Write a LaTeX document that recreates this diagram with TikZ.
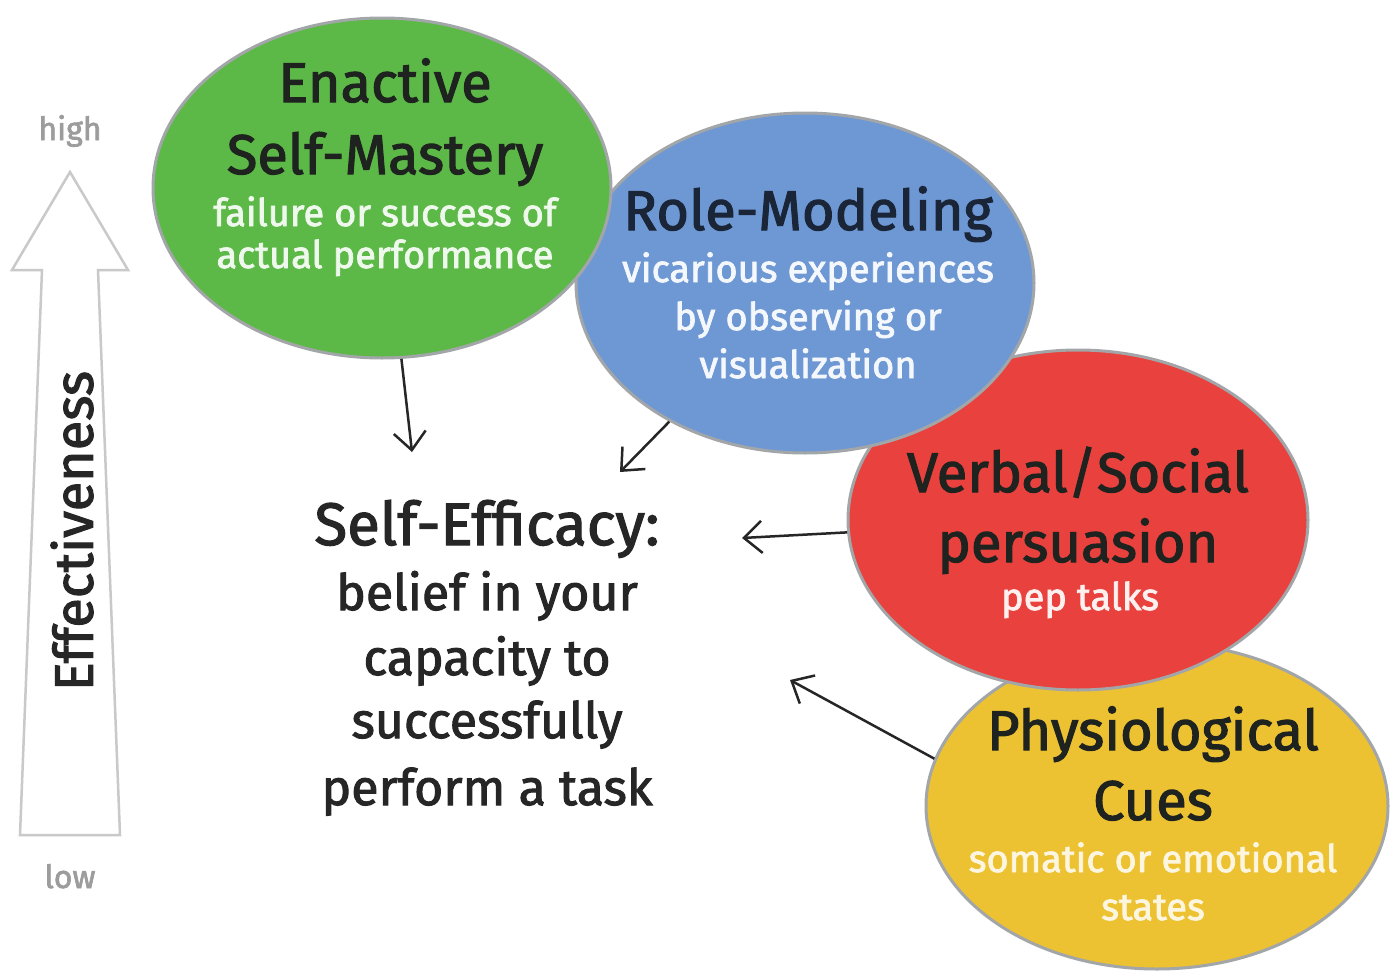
\documentclass[tikz,border=0pt]{standalone}
\usepackage{fontspec}
\setmainfont{Fira Sans}
\newfontfamily\heavy{Fira Sans}[FakeBold=2]
\usetikzlibrary{arrows.meta,shapes.geometric}
\definecolor{cgreen}{HTML}{5DB947}
\definecolor{cblue}{HTML}{6E98D4}
\definecolor{cred}{HTML}{E9413D}
\definecolor{cyellow}{HTML}{EDC232}
\definecolor{cborder}{HTML}{A3A6A8}
\definecolor{ctitle}{HTML}{1F2320}
\definecolor{cnavy}{HTML}{1B2538}
\definecolor{cgray}{HTML}{9C9C9C}
\definecolor{carrowout}{HTML}{C9C9C9}
\definecolor{ctext}{HTML}{262626}
\tikzset{
  bubble/.style={ellipse, draw=cborder, line width=3pt, inner sep=0pt},
  ttl/.style={anchor=base, text=ctitle, font=\heavy\fontsize{56}{56}\selectfont},
  sub/.style={anchor=base, font=\heavy\fontsize{38}{38}\selectfont},
  eff/.style={anchor=base, text=ctext, font=\heavy\fontsize{50}{50}\selectfont},
  lvl/.style={anchor=base, text=cgray, font=\heavy\fontsize{32}{32}\selectfont},
  arr/.style={draw=ctext, line width=2.5pt, -{Straight Barb[length=18pt,width=32pt]}},
}
\begin{document}
\begin{tikzpicture}[x=1pt,y=-1pt]
\useasboundingbox (0,0) rectangle (1398,972);
\fill[white] (0,0) rectangle (1398,972);

% effectiveness arrow
\draw[carrowout, line width=2.5pt, line join=miter]
  (20,835) -- (42,270) -- (12,270) -- (70,172) -- (128,270) -- (98,270) -- (120,835) -- cycle;
\node[lvl] (high) at (70,140) {high};
\node[lvl] (low) at (70,888) {low};
\node[rotate=90, text=ctext, font=\heavy\fontsize{54}{54}\selectfont] (effect) at (72,531) {Effectiveness};

% bubbles (bottom to top)
\node[bubble, fill=cyellow, minimum width=462pt, minimum height=326pt] (yellow) at (1157,806) {};
\node[bubble, fill=cred, minimum width=460pt, minimum height=340pt] (red) at (1078,520) {};
\node[bubble, fill=cblue, minimum width=458pt, minimum height=340pt] (blue) at (805,283) {};
\node[bubble, fill=cgreen, minimum width=458pt, minimum height=340pt] (green) at (382,188) {};

% green text
\node[ttl] (g1) at (385,102) {Enactive};
\node[ttl] (g2) at (385,174) {Self-Mastery};
\node[sub, text=white!90!cgreen] (g3) at (385,226) {failure or success of};
\node[sub, text=white!90!cgreen] (g4) at (385,268) {actual performance};

% blue text
\node[ttl, text=cnavy] (b1) at (808,230) {Role-Modeling};
\node[sub, text=white!92!cblue] (b2) at (808,282) {vicarious experiences};
\node[sub, text=white!92!cblue] (b3) at (808,330) {by observing or};
\node[sub, text=white!92!cblue] (b4) at (808,378) {visualization};

% red text
\node[ttl] (r1) at (1078,492) {Verbal/Social};
\node[ttl] (r2) at (1078,562) {persuasion};
\node[sub, text=white!92!cred] (r3) at (1080,610) {pep talks};

% yellow text
\node[ttl] (y1) at (1153,750) {Physiological};
\node[ttl] (y2) at (1153,820) {Cues};
\node[sub, text=white!85!cyellow] (y3) at (1153,872) {somatic or emotional};
\node[sub, text=white!85!cyellow] (y4) at (1153,920) {states};

% central text
\node[eff, font=\heavy\fontsize{60}{60}\selectfont] (se1) at (487,545) {Self-Efficacy:};
\node[eff] (se2) at (487,610) {belief in your};
\node[eff] (se3) at (487,675) {capacity to};
\node[eff] (se4) at (487,738) {successfully};
\node[eff] (se5) at (487,805) {perform a task};

% connectors
\coordinate (e1) at (412,452);
\coordinate (e2) at (620,472);
\coordinate (e3) at (742,538);
\coordinate (e4) at (790,680);
\draw[arr] (green) -- (e1);
\draw[arr] (blue) -- (e2);
\draw[arr] (red) -- (e3);
\draw[arr] (yellow.168) -- (e4);
\end{tikzpicture}
\end{document}
